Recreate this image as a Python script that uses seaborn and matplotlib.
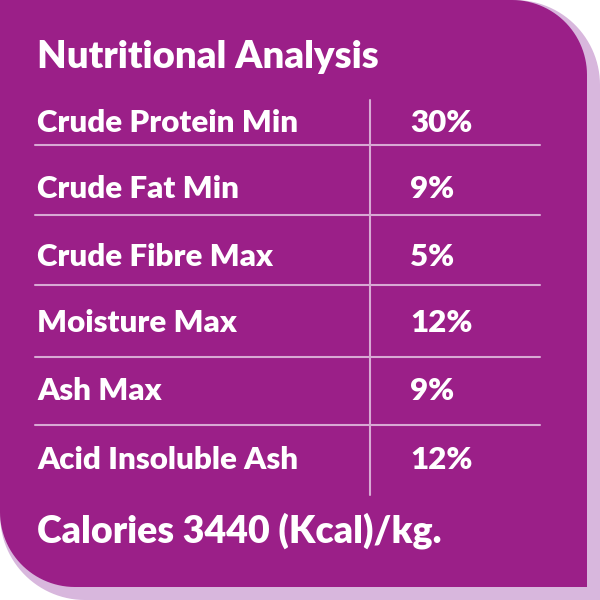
import numpy as np
import matplotlib
matplotlib.use("Agg")
import matplotlib.pyplot as plt
import seaborn as sns
from matplotlib.path import Path
from matplotlib.patches import PathPatch

title = "Nutritional Analysis"
nutrients = ["Crude Protein Min", "Crude Fat Min", "Crude Fibre Max",
             "Moisture Max", "Ash Max", "Acid Insoluble Ash"]
values = ["30%", "9%", "5%", "12%", "9%", "12%"]
footer = "Calories 3440 (Kcal)/kg."

sns.set_theme(style="white")
plt.rcParams['font.family'] = ['Lato', 'DejaVu Sans']

def shape(x0, y0, x1, y1, r_tr, r_bl, n=30):
    pts = [(x0, y0)]
    t = np.linspace(np.pi/2, 0, n)
    cx, cy = x1 - r_tr, y0 + r_tr
    pts += [(cx + r_tr*np.cos(a), cy - r_tr*np.sin(a)) for a in t]
    pts.append((x1, y1))
    t = np.linspace(3*np.pi/2, np.pi, n)
    cx, cy = x0 + r_bl, y1 - r_bl
    pts += [(cx + r_bl*np.cos(a), cy - r_bl*np.sin(a)) for a in t]
    pts.append((x0, y0))
    return Path(pts, closed=True)

fig = plt.figure(figsize=(6, 6), dpi=100)
ax = fig.add_axes([0, 0, 1, 1])
ax.set_xlim(0, 600); ax.set_ylim(600, 0); ax.axis("off")

ax.add_patch(PathPatch(shape(0, 0, 600, 600, 85, 85), fc="#d8b7dd", ec="none"))
ax.add_patch(PathPatch(shape(0, 0, 587, 587, 75, 75), fc="#9b1f88", ec="none"))

ax.text(37, 57, title, color="white", fontsize=27.5, fontweight="heavy", va="center")
row_y = [123, 189, 257, 323, 391, 460]
for yy, n_, v in zip(row_y, nutrients, values):
    ax.text(37, yy, n_, color="white", fontsize=22.5, fontweight="heavy", va="center")
    ax.text(410, yy, v, color="white", fontsize=22.5, fontweight="heavy", va="center")
for yy in [145, 215, 285, 357, 425]:
    ax.plot([35, 540], [yy, yy], color="#d8a9d4", lw=1.5)
ax.plot([370, 370], [100, 495], color="#d8a9d4", lw=1.5)
ax.text(37, 531, footer, color="white", fontsize=27, fontweight="heavy", va="center")

fig.savefig("out.png", dpi=100)
